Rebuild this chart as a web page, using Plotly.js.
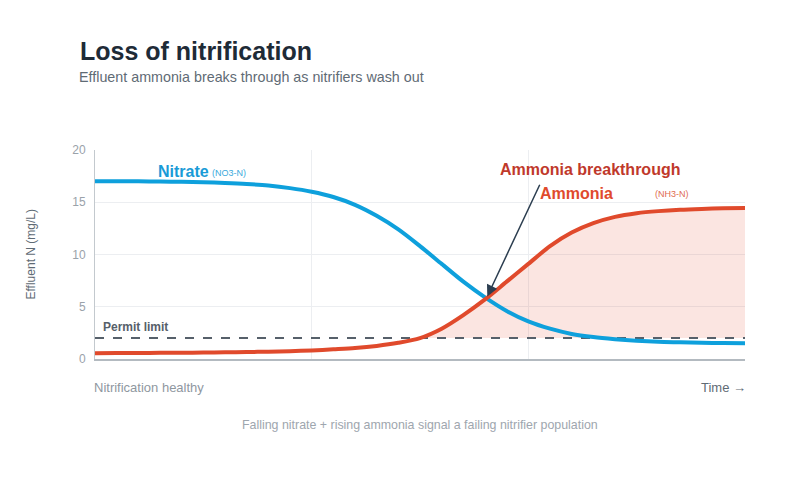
<!DOCTYPE html>
<html>
<head>
<meta charset="utf-8">
<script src="https://cdn.plot.ly/plotly-3.0.1.min.js"></script>
<style>html,body{margin:0;padding:0;background:#fff;}#chart{width:800px;height:500px;}</style>
</head>
<body>
<div id="chart"></div>
<script>
// ---- data ----
const time = [0, 1, 2, 3, 4, 5, 6, 7, 8, 9, 10, 11, 12, 13, 14, 15, 16, 17, 18, 19, 20, 21, 22, 23, 24, 25, 26, 27, 28, 29, 30];
const nitrate = [17.0, 17.0, 17.0, 16.98, 16.96, 16.92, 16.85, 16.75, 16.6, 16.35, 16.0, 15.5, 14.75, 13.7, 12.4, 10.8, 9.1, 7.4, 5.9, 4.6, 3.6, 2.9, 2.4, 2.1, 1.9, 1.75, 1.65, 1.6, 1.55, 1.52, 1.5];
const ammonia = [0.56, 0.57, 0.58, 0.59, 0.6, 0.62, 0.64, 0.67, 0.7, 0.75, 0.82, 0.93, 1.05, 1.25, 1.55, 2.0, 2.9, 4.2, 5.7, 7.4, 9.1, 10.8, 12.1, 13.0, 13.6, 13.95, 14.15, 14.28, 14.36, 14.42, 14.45];
const permitLimit = 2;
const yTicks = [0, 5, 10, 15, 20];

// ---- derived ----
const permitLine = time.map(() => permitLimit);
const ammoniaAbove = ammonia.map(v => Math.max(v, permitLimit));

// crossing point of the two series (linear interpolation between samples)
let cross = {x: time[0], y: nitrate[0]};
for (let i = 1; i < time.length; i++) {
  const d0 = nitrate[i-1] - ammonia[i-1], d1 = nitrate[i] - ammonia[i];
  if (d0 > 0 && d1 <= 0) {
    const f = d0 / (d0 - d1);
    cross.x = time[i-1] + f * (time[i] - time[i-1]);
    cross.y = nitrate[i-1] + f * (nitrate[i] - nitrate[i-1]);
    break;
  }
}

const FONT = 'Liberation Sans, Arial, Helvetica, sans-serif';
const BLUE = '#0ea0dc';
const RED = '#e04a2c';
const px2x = p => (p - 95) / 650 * 30;
const py2y = p => (359 - p) / 209 * 20;

const traces = [
  {x: time, y: permitLine, type: 'scatter', mode: 'lines', line: {width: 0, color: 'rgba(0,0,0,0)'}, hoverinfo: 'skip', showlegend: false},
  {x: time, y: ammoniaAbove, type: 'scatter', mode: 'lines', line: {width: 0, shape: 'spline', smoothing: 0.8, color: 'rgba(0,0,0,0)'}, fill: 'tonexty', fillcolor: 'rgba(224,74,44,0.14)', hoverinfo: 'skip', showlegend: false},
  {x: time, y: permitLine, type: 'scatter', mode: 'lines', line: {width: 2, dash: 'dash', color: '#56606a'}, showlegend: false},
  {x: time, y: nitrate, type: 'scatter', mode: 'lines', line: {width: 4, shape: 'spline', smoothing: 0.8, color: BLUE}, showlegend: false},
  {x: time, y: ammonia, type: 'scatter', mode: 'lines', line: {width: 4, shape: 'spline', smoothing: 0.8, color: RED}, showlegend: false}
];

const layout = {
  width: 800, height: 500,
  margin: {l: 95, r: 55, t: 150, b: 141},
  paper_bgcolor: '#fff', plot_bgcolor: '#fff',
  font: {family: FONT, color: '#5f6b75'},
  showlegend: false,
  title: {text: '<b>Loss of nitrification</b>', x: 80/800, xref: 'container', xanchor: 'left', y: 1 - 51/500, yref: 'container', yanchor: 'middle', font: {size: 25, color: '#1e2b37', family: FONT}},
  xaxis: {range: [0, 30], dtick: 10, tick0: 0, showticklabels: false, ticks: '', showgrid: true, gridcolor: '#eceef1', gridwidth: 1, zeroline: false, showline: true, linecolor: '#b3bac0', linewidth: 2, fixedrange: true},
  yaxis: {range: [0, 20], tickvals: yTicks, ticktext: yTicks.map(String), ticks: '', showgrid: true, gridcolor: '#eceef1', gridwidth: 1, zeroline: false, showline: true, linecolor: '#c3c9ce', linewidth: 1, tickfont: {size: 12, color: '#9aa2aa'}, ticklabelstandoff: 6, fixedrange: true},
  annotations: [
    {text: 'Effluent ammonia breaks through as nitrifiers wash out', xref: 'paper', yref: 'paper', x: (77-95)/650, y: (359-77)/209, xanchor: 'left', yanchor: 'middle', showarrow: false, font: {size: 14.3, color: '#5f6b75'}},
    {text: 'Effluent N (mg/L)', xref: 'paper', yref: 'paper', x: (30-95)/650, y: 0.5, textangle: -90, xanchor: 'center', yanchor: 'middle', showarrow: false, font: {size: 12, color: '#5f6b75'}},
    {text: '<b>Nitrate</b>', xref: 'x', yref: 'y', x: px2x(155.5), y: py2y(171), xanchor: 'left', yanchor: 'middle', showarrow: false, font: {size: 16, color: '#1a9bd7'}},
    {text: '(NO3-N)', xref: 'x', yref: 'y', x: px2x(209.5), y: py2y(173), xanchor: 'left', yanchor: 'middle', showarrow: false, font: {size: 9, color: '#3aa9dc'}},
    {text: '<b>Ammonia breakthrough</b>', xref: 'x', yref: 'y', x: px2x(590), y: py2y(169), xanchor: 'center', yanchor: 'middle', showarrow: false, font: {size: 16, color: '#c0392b'}},
    {text: '<b>Ammonia</b>', xref: 'x', yref: 'y', x: px2x(538), y: py2y(193), xanchor: 'left', yanchor: 'middle', showarrow: false, font: {size: 16, color: RED}},
    {text: '(NH3-N)', xref: 'x', yref: 'y', x: px2x(672), y: py2y(194), xanchor: 'center', yanchor: 'middle', showarrow: false, font: {size: 9, color: '#e06a50'}},
    {text: '<b>Permit limit</b>', xref: 'x', yref: 'y', x: px2x(100.5), y: py2y(327), xanchor: 'left', yanchor: 'middle', showarrow: false, font: {size: 12, color: '#56606a'}},
    {text: '', xref: 'x', yref: 'y', x: cross.x, y: cross.y, ax: 54, ay: -115, showarrow: true, arrowhead: 2, arrowsize: 1.5, arrowwidth: 1.5, arrowcolor: '#2c3e50', standoff: 2},
    {text: 'Nitrification healthy', xref: 'paper', yref: 'paper', x: (92-95)/650, y: (359-387)/209, xanchor: 'left', yanchor: 'middle', showarrow: false, font: {size: 13, color: '#8f979f'}},
    {text: 'Time →', xref: 'paper', yref: 'paper', x: (748-95)/650, y: (359-387)/209, xanchor: 'right', yanchor: 'middle', showarrow: false, font: {size: 13, color: '#5f6b75'}},
    {text: 'Falling nitrate + rising ammonia signal a failing nitrifier population', xref: 'paper', yref: 'paper', x: (420-95)/650, y: (359-425)/209, xanchor: 'center', yanchor: 'middle', showarrow: false, font: {size: 12.4, color: '#9ea6ae'}}
  ]
};

Plotly.newPlot('chart', traces, layout, {displayModeBar: false, staticPlot: true});
</script>
</body>
</html>
